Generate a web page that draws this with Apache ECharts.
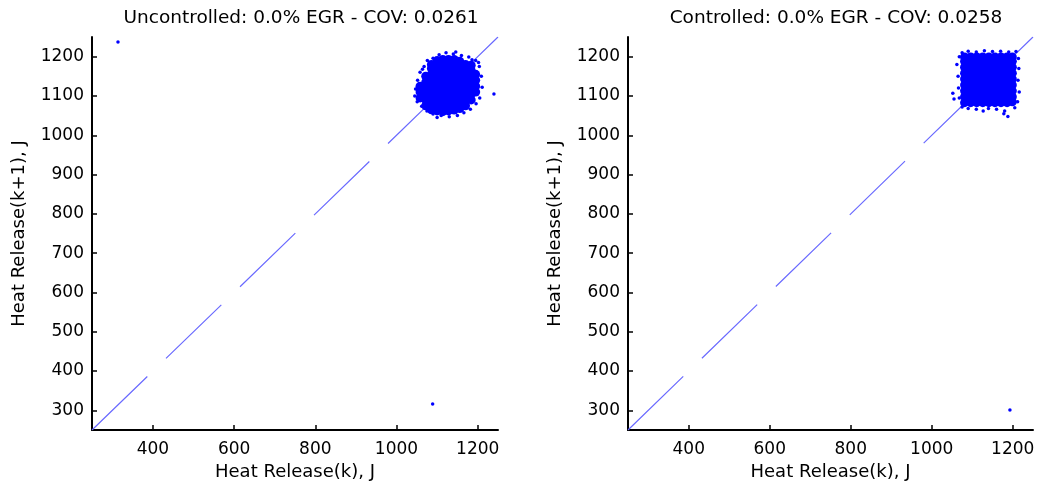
<!DOCTYPE html>
<html>
<head>
<meta charset="utf-8">
<script src="https://cdn.jsdelivr.net/npm/echarts@6/dist/echarts.min.js"></script>
<style>html,body{margin:0;padding:0;background:#fff}#c{width:1039px;height:490px}</style>
</head>
<body>
<div id="c"></div>
<script>
// ---- data ----
const titles = ['Uncontrolled: 0.0% EGR - COV: 0.0261', 'Controlled: 0.0% EGR - COV: 0.0258'];
const xName = 'Heat Release(k), J';
const yName = 'Heat Release(k+1), J';
const xTicks = [400, 600, 800, 1000, 1200];
const yTicks = [300, 400, 500, 600, 700, 800, 900, 1000, 1100, 1200];
const diagonal = [[250, 250], [1250, 1250]];

// dense core of the uncontrolled cloud
const leftCore = [
[1058,1095],[1058,1110],[1058,1125],
[1072,1075],[1072,1090],[1072,1105],[1072,1120],[1072,1135],[1072,1150],
[1086,1065],[1086,1080],[1086,1095],[1086,1110],[1086,1125],[1086,1140],[1086,1155],[1086,1170],[1086,1180],
[1100,1062],[1100,1077],[1100,1092],[1100,1107],[1100,1122],[1100,1137],[1100,1152],[1100,1167],[1100,1182],[1100,1190],
[1114,1060],[1114,1075],[1114,1090],[1114,1105],[1114,1120],[1114,1135],[1114,1150],[1114,1165],[1114,1180],[1114,1193],
[1128,1062],[1128,1075],[1128,1090],[1128,1105],[1128,1120],[1128,1135],[1128,1150],[1128,1165],[1128,1180],[1128,1193],
[1142,1064],[1142,1077],[1142,1092],[1142,1107],[1142,1122],[1142,1137],[1142,1152],[1142,1167],[1142,1182],[1142,1193],
[1156,1068],[1156,1083],[1156,1098],[1156,1113],[1156,1128],[1156,1143],[1156,1158],[1156,1173],[1156,1188],
[1170,1075],[1170,1090],[1170,1105],[1170,1120],[1170,1135],[1170,1150],[1170,1165],[1170,1180],
[1184,1090],[1184,1105],[1184,1120],[1184,1135],[1184,1150],[1184,1165],[1184,1178],
[1195,1110],[1195,1125],[1195,1140],[1195,1155]
];
// scattered edge points of the uncontrolled cloud
const leftEdge = [
[1045,1100],[1047,1118],[1052,1140],[1058,1160],[1068,1175],[1076,1190],[1090,1196],[1105,1205],
[1122,1210],[1140,1207],[1160,1203],[1178,1199],[1195,1190],[1204,1175],[1209,1150],[1211,1122],
[1205,1095],[1196,1080],[1182,1066],[1166,1057],[1150,1050],[1130,1047],[1110,1050],[1090,1054],
[1075,1062],[1062,1074],[1051,1085],[1100,1045],[1146,1212],[1064,1168],[1202,1185],[1186,1192]
];
const leftOutliers = [[314, 1237], [1089, 316], [1240, 1105]];

// dense core of the controlled cloud
const rightCore = [
[1081,1083],[1081,1098],[1081,1113],[1081,1128],[1081,1143],[1081,1158],[1081,1173],[1081,1188],[1081,1199],
[1096,1083],[1096,1098],[1096,1113],[1096,1128],[1096,1143],[1096,1158],[1096,1173],[1096,1188],[1096,1199],
[1111,1083],[1111,1098],[1111,1113],[1111,1128],[1111,1143],[1111,1158],[1111,1173],[1111,1188],[1111,1199],
[1126,1083],[1126,1098],[1126,1113],[1126,1128],[1126,1143],[1126,1158],[1126,1173],[1126,1188],[1126,1199],
[1141,1083],[1141,1098],[1141,1113],[1141,1128],[1141,1143],[1141,1158],[1141,1173],[1141,1188],[1141,1199],
[1156,1083],[1156,1098],[1156,1113],[1156,1128],[1156,1143],[1156,1158],[1156,1173],[1156,1188],[1156,1199],
[1171,1083],[1171,1098],[1171,1113],[1171,1128],[1171,1143],[1171,1158],[1171,1173],[1171,1188],[1171,1199],
[1186,1083],[1186,1098],[1186,1113],[1186,1128],[1186,1143],[1186,1158],[1186,1173],[1186,1188],[1186,1199],
[1199,1085],[1199,1098],[1199,1113],[1199,1128],[1199,1143],[1199,1158],[1199,1173],[1199,1188],[1199,1199]
];
const rightEdge = [
[1052,1107],[1055,1092],[1062,1180],[1065,1150],[1066,1120],[1068,1200],[1075,1210],[1090,1214],
[1110,1212],[1130,1215],[1150,1213],[1170,1214],[1190,1212],[1208,1213],[1214,1195],[1215,1170],
[1213,1140],[1216,1110],[1212,1085],[1205,1070],[1188,1048],[1180,1062],[1160,1066],[1140,1068],
[1127,1062],[1110,1066],[1090,1068],[1075,1072],[1068,1095],[1178,1055]
];
const rightOutliers = [[1193, 301]];

// ---- chart ----
const FONT = 'DejaVu Sans';
const grids = [
  {left: 92, top: 37, width: 406, height: 393},
  {left: 628, top: 37, width: 405, height: 393}
];
const plain = v => String(v);
function xAxis(i) {
  return {
    type: 'value', gridIndex: i, min: 250, max: 1250,
    name: xName, nameLocation: 'middle', nameGap: 33,
    nameTextStyle: {fontFamily: FONT, fontSize: 18, color: '#000'},
    splitLine: {show: false},
    axisLine: {lineStyle: {color: '#000', width: 2}},
    axisTick: {inside: true, length: 5, customValues: xTicks, lineStyle: {color: '#000', width: 1.5}},
    axisLabel: {customValues: xTicks, formatter: plain, fontFamily: FONT, fontSize: 17, color: '#000', margin: 11}
  };
}
function yAxis(i) {
  return {
    type: 'value', gridIndex: i, min: 250, max: 1250,
    name: yName, nameLocation: 'middle', nameGap: 64, nameRotate: 90,
    nameTextStyle: {fontFamily: FONT, fontSize: 18, color: '#000'},
    splitLine: {show: false},
    axisLine: {show: true, lineStyle: {color: '#000', width: 2}},
    axisTick: {show: true, inside: true, length: 5, customValues: yTicks, lineStyle: {color: '#000', width: 1.5}},
    axisLabel: {customValues: yTicks, formatter: plain, fontFamily: FONT, fontSize: 17, color: '#000', margin: 8}
  };
}
function seriesFor(i, core, edge, outl) {
  return [
    {type: 'line', xAxisIndex: i, yAxisIndex: i, data: diagonal, symbol: 'none', silent: true, z: 1,
     lineStyle: {color: '#6a6aff', width: 1.2, type: [77, 26]}},
    {type: 'scatter', xAxisIndex: i, yAxisIndex: i, data: core, symbolSize: 9, z: 3,
     itemStyle: {color: '#0000ff', opacity: 1}},
    {type: 'scatter', xAxisIndex: i, yAxisIndex: i, data: edge, symbolSize: 3.5, z: 3,
     itemStyle: {color: '#0000ff', opacity: 1}},
    {type: 'scatter', xAxisIndex: i, yAxisIndex: i, data: outl, symbolSize: 3.5, z: 3,
     itemStyle: {color: '#0000ff', opacity: 1}}
  ];
}
const chart = echarts.init(document.getElementById('c'), null, {renderer: 'canvas'});
chart.setOption({
  animation: false,
  backgroundColor: '#fff',
  title: [
    {text: titles[0], left: 296, top: 4, textAlign: 'center', textStyle: {fontFamily: FONT, fontSize: 18.5, fontWeight: 'normal', color: '#000'}},
    {text: titles[1], left: 831, top: 4, textAlign: 'center', textStyle: {fontFamily: FONT, fontSize: 18.5, fontWeight: 'normal', color: '#000'}}
  ],
  grid: grids,
  xAxis: [xAxis(0), xAxis(1)],
  yAxis: [yAxis(0), yAxis(1)],
  series: [].concat(
    seriesFor(0, leftCore, leftEdge, leftOutliers),
    seriesFor(1, rightCore, rightEdge, rightOutliers)
  )
});
</script>
</body>
</html>
